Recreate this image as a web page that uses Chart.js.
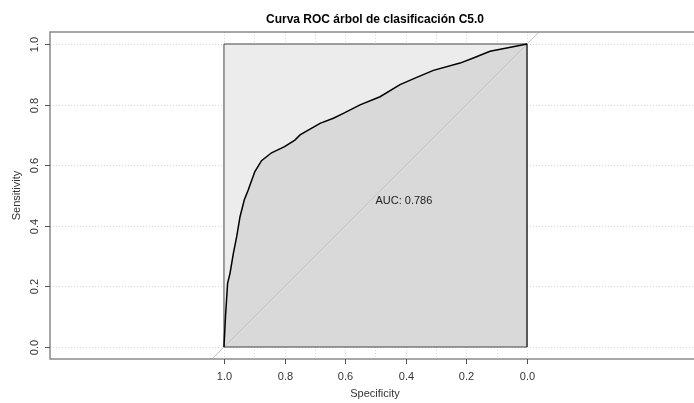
<!DOCTYPE html>
<html>
<head>
<meta charset="utf-8">
<script src="https://cdn.jsdelivr.net/npm/chart.js@4.4.1/dist/chart.umd.min.js"></script>
<style>
  html, body { margin: 0; padding: 0; background: #fff; }
  #wrap { width: 694px; height: 403px; }
</style>
</head>
<body>
<div id="wrap"><canvas id="roc" width="694" height="403"></canvas></div>
<script>
'use strict';

// curve (specificity goes 1 -> 0)
var specificity = [1.0, 0.995, 0.988, 0.980, 0.969, 0.958, 0.947, 0.933, 0.920, 0.898, 0.876, 0.843, 0.800, 0.766, 0.749, 0.683, 0.639, 0.606, 0.551, 0.485, 0.419, 0.364, 0.309, 0.221, 0.177, 0.122, 0.067, 0.0];
var sensitivity = [0.0, 0.10, 0.21, 0.243, 0.309, 0.364, 0.43, 0.485, 0.518, 0.579, 0.615, 0.641, 0.661, 0.683, 0.70, 0.738, 0.755, 0.771, 0.799, 0.826, 0.866, 0.890, 0.913, 0.937, 0.954, 0.976, 0.987, 1.0];

var aucText = 'AUC: 0.786';
var titleText = 'Curva ROC árbol de clasificación C5.0';

var xTicks = [1.0, 0.8, 0.6, 0.4, 0.2, 0.0];
var yTicks = [0.0, 0.2, 0.4, 0.6, 0.8, 1.0];
var xGrid = [0.0, 0.1, 0.2, 0.3, 0.4, 0.5, 0.6, 0.7, 0.8, 0.9, 1.0];
var yGrid = [0.0, 0.2, 0.4, 0.6, 0.8, 1.0];

// the unit square and the chance line
var boxTopSpec = [1, 0];
var boxTopSens = [1, 1];
var boxSpec = [1, 1, 0, 0, 1];
var boxSens = [0, 1, 1, 0, 0];
var diagSpec = [1.2, -0.2];
var diagSens = [-0.2, 1.2];

function toPoints(xs, ys) {
  var pts = [];
  for (var i = 0; i < xs.length; i++) {
    pts.push({x: xs[i], y: ys[i]});
  }
  return pts;
}

var FONT = '"Liberation Sans", Arial, sans-serif';

// grid under the polygons, axes and text on top
var rDecor = {
  id: 'rDecor',
  beforeDatasetsDraw: function(chart) {
    var ctx = chart.ctx;
    var a = chart.chartArea;
    var sx = chart.scales.x, sy = chart.scales.y;
    ctx.save();
    ctx.strokeStyle = '#d8d8d8';
    ctx.lineWidth = 1;
    ctx.setLineDash([1, 2]);
    xGrid.forEach(function(v) {
      var px = Math.round(sx.getPixelForValue(v)) + 0.5;
      ctx.beginPath(); ctx.moveTo(px, a.top); ctx.lineTo(px, a.bottom); ctx.stroke();
    });
    yGrid.forEach(function(v) {
      var py = Math.round(sy.getPixelForValue(v)) + 0.5;
      ctx.beginPath(); ctx.moveTo(a.left, py); ctx.lineTo(a.right, py); ctx.stroke();
    });
    ctx.restore();
  },
  afterDatasetsDraw: function(chart) {
    var ctx = chart.ctx;
    var a = chart.chartArea;
    var sx = chart.scales.x, sy = chart.scales.y;
    var midX = (a.left + 700) / 2;
    ctx.save();

    // frame
    ctx.strokeStyle = '#8a8a8a';
    ctx.lineWidth = 1.5;
    ctx.beginPath();
    ctx.moveTo(a.right + 10, a.top);
    ctx.lineTo(a.left, a.top);
    ctx.lineTo(a.left, a.bottom);
    ctx.lineTo(a.right + 10, a.bottom);
    ctx.stroke();

    // ticks
    ctx.strokeStyle = '#555';
    ctx.lineWidth = 1;
    ctx.fillStyle = '#333';
    ctx.font = '11px ' + FONT;
    ctx.textAlign = 'center';
    ctx.textBaseline = 'middle';
    xTicks.forEach(function(v) {
      var px = Math.round(sx.getPixelForValue(v)) + 0.5;
      ctx.beginPath(); ctx.moveTo(px, a.bottom); ctx.lineTo(px, a.bottom + 5); ctx.stroke();
      ctx.fillText(v.toFixed(1), px, a.bottom + 18);
    });
    yTicks.forEach(function(v) {
      var py = Math.round(sy.getPixelForValue(v)) + 0.5;
      ctx.beginPath(); ctx.moveTo(a.left, py); ctx.lineTo(a.left - 5, py); ctx.stroke();
      ctx.save();
      ctx.translate(a.left - 15, py);
      ctx.rotate(-Math.PI / 2);
      ctx.fillText(v.toFixed(1), 0, 0);
      ctx.restore();
    });

    // axis titles
    ctx.fillText('Specificity', midX, 394);
    ctx.save();
    ctx.translate(17, (a.top + a.bottom) / 2);
    ctx.rotate(-Math.PI / 2);
    ctx.fillText('Sensitivity', 0, 0);
    ctx.restore();

    // AUC label, left aligned at (0.5, 0.5)
    ctx.textAlign = 'left';
    ctx.textBaseline = 'top';
    ctx.fillStyle = '#222';
    ctx.fillText(aucText, sx.getPixelForValue(0.5), sy.getPixelForValue(0.5));

    // main title
    ctx.fillStyle = '#000';
    ctx.font = 'bold 12px ' + FONT;
    ctx.textAlign = 'center';
    ctx.textBaseline = 'middle';
    ctx.fillText(titleText, midX, 20);
    ctx.restore();
  }
};

var ctx = document.getElementById('roc').getContext('2d');
var chart = new Chart(ctx, {
  type: 'line',
  data: {
    datasets: [
      {
        label: 'box fill',
        data: toPoints(boxTopSpec, boxTopSens),
        fill: 'origin',
        backgroundColor: '#ececec',
        borderWidth: 0,
        pointRadius: 0,
        order: 6
      },
      {
        label: 'curve fill',
        data: toPoints(specificity, sensitivity),
        fill: 'origin',
        backgroundColor: '#d9d9d9',
        borderWidth: 0,
        pointRadius: 0,
        order: 5
      },
      {
        label: 'chance',
        data: toPoints(diagSpec, diagSens),
        fill: false,
        borderColor: '#c4c4c4',
        borderWidth: 1,
        pointRadius: 0,
        order: 4
      },
      {
        label: 'box',
        data: toPoints(boxSpec, boxSens),
        fill: false,
        borderColor: '#444',
        borderWidth: 1,
        pointRadius: 0,
        order: 3
      },
      {
        label: 'ROC',
        data: toPoints(specificity, sensitivity),
        fill: false,
        borderColor: '#000',
        borderWidth: 1.5,
        pointRadius: 0,
        tension: 0,
        order: 2
      }
    ]
  },
  options: {
    responsive: false,
    animation: false,
    events: [],
    layout: { padding: { left: 50, top: 32, right: 0, bottom: 44 } },
    scales: {
      x: { type: 'linear', min: -0.551, max: 1.574, reverse: true, display: false },
      y: { type: 'linear', min: -0.0396, max: 1.0396, display: false }
    },
    plugins: {
      legend: { display: false },
      tooltip: { enabled: false },
      title: { display: false }
    }
  },
  plugins: [rDecor]
});
</script>
</body>
</html>
